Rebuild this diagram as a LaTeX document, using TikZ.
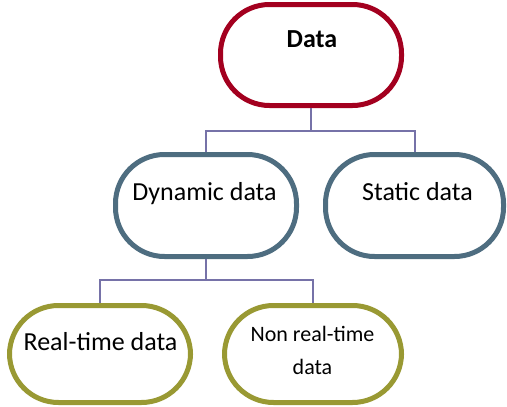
\documentclass[tikz,border=0pt]{standalone}
\usepackage{fontspec}
\setmainfont{Carlito}
\begin{document}
\begin{tikzpicture}[x=1pt,y=-1pt,
  pill/.style={draw, line width=5pt, rounded corners=49pt, fill=white, inner sep=0pt},
  redpill/.style={pill, draw=dred},
  bluepill/.style={pill, draw=sblue},
  olivepill/.style={pill, draw=olv},
  conn/.style={draw=lconn, line width=2pt},
  lbl/.style={anchor=base, inner sep=0pt, font=\fontsize{26}{30}\selectfont},
  slbl/.style={anchor=base, inner sep=0pt, font=\fontsize{22}{26}\selectfont}
]
\definecolor{dred}{HTML}{A3001F}
\definecolor{sblue}{HTML}{4E6D80}
\definecolor{olv}{HTML}{999933}
\definecolor{lconn}{HTML}{7672A8}
\useasboundingbox (0,0) rectangle (507,407);
\node[redpill, minimum width=181pt, minimum height=101pt] (data) at (311,55) {};
\node[bluepill, minimum width=181pt, minimum height=102pt] (dyn) at (206,205.5) {};
\node[bluepill, minimum width=178pt, minimum height=102pt] (stat) at (414.5,205.5) {};
\node[olivepill, minimum width=181pt, minimum height=97pt] (real) at (100,354) {};
\node[olivepill, minimum width=177pt, minimum height=97pt] (non) at (313,354) {};
\coordinate (j1) at (311,131);
\coordinate (j2) at (206,280);
\draw[conn] (data.south) -- (j1) -| (dyn.north);
\draw[conn] (j1) -| (stat.north);
\draw[conn] (dyn.south) -- (j2) -| (real.north);
\draw[conn] (j2) -| (non.north);
\node[lbl, font=\fontsize{26}{30}\selectfont\bfseries] (tdata) at (312,47) {Data};
\node[lbl] (tdyn) at (204.5,200) {Dynamic data};
\node[lbl] (tstat) at (417.5,200) {Static data};
\node[lbl] (treal) at (100.5,350) {Real-time data};
\node[slbl] (tnon1) at (312.5,341) {Non real-time};
\node[slbl] (tnon2) at (312.5,374) {data};
\end{tikzpicture}
\end{document}
